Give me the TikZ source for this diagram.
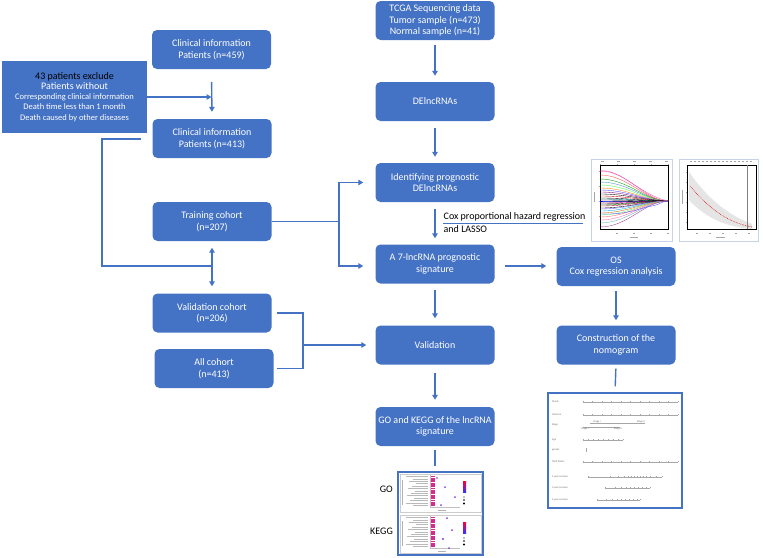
\documentclass[tikz,border=0pt]{standalone}
\usepackage{fontspec}
\setmainfont{Carlito}
\usetikzlibrary{arrows.meta,calc}
\definecolor{ob}{HTML}{4472C4}
\definecolor{frm}{HTML}{C9D3E6}
\definecolor{mag}{HTML}{D62A8E}
\definecolor{pur}{HTML}{7F3FE0}
\begin{document}
\begin{tikzpicture}[x=1pt,y=-1pt,
  box/.style={rectangle,rounded corners=5pt,fill=ob,text=white,align=center,
    font=\fontsize{10}{11.5}\selectfont,minimum width=119pt,minimum height=39pt,inner sep=1pt},
  conn/.style={draw=ob,line width=1.4pt},
  arr/.style={conn,-{Triangle[length=5pt,width=5.5pt]}},
  arrtwo/.style={conn,{Triangle[length=5pt,width=5.5pt]}-{Triangle[length=5pt,width=5.5pt]}},
  lbl/.style={font=\fontsize{10}{11.5}\selectfont,inner sep=0pt,text=black},
  imgframe/.style={draw=ob,line width=1.2pt,fill=white,inner sep=0pt},
  plotframe/.style={draw=frm,line width=0.8pt,fill=white,inner sep=0pt},
  ax/.style={draw=gray!70,line width=0.3pt},
  tiny/.style={font=\fontsize{2.6}{3}\selectfont,text=gray!80!black,inner sep=0pt}]
\useasboundingbox (0,0) rectangle (763,557);

% ---------- left column ----------
\node[box] (c459) at (211.5,49.5) {Clinical information\\Patients (n=459)};
\node[rectangle,fill=ob,text=white,align=center,minimum width=145pt,minimum height=72pt,inner sep=1pt,
  font=\fontsize{8.5}{10.2}\selectfont] (excl) at (74.5,97)
  {{\fontsize{10}{10.2}\selectfont\textcolor{black}{43 patients exclude}}\\
   {\fontsize{10}{10.2}\selectfont Patients without}\\
   Corresponding clinical information\\
   Death time less than 1 month\\
   Death caused by other diseases};
\node[box] (c413) at (212,138.5) {Clinical information\\Patients (n=413)};
\node[box] (train) at (212,221.5) {Training cohort\\(n=207)};
\node[box] (valc) at (212,313) {Validation cohort\\(n=206)};
\node[box] (allc) at (214,368.5) {All cohort\\(n=413)};

% ---------- middle column ----------
\node[box] (tcga) at (435,20.5) {TCGA Sequencing data\\Tumor sample (n=473)\\Normal sample (n=41)};
\node[box] (deln) at (435,101.5) {DElncRNAs};
\node[box] (ident) at (435,182.5) {Identifying prognostic\\DElncRNAs};
\node[box] (a7) at (435,264) {A 7-lncRNA prognostic\\signature};
\node[box] (valid) at (435,345) {Validation};
\node[box] (gok) at (435,426.5) {GO and KEGG of the lncRNA\\signature};

% ---------- right column ----------
\node[box] (os) at (616,266.5) {OS\\Cox regression analysis};
\node[box] (nomo) at (616,345) {Construction of the\\nomogram};

% ---------- connectors, left ----------
\draw[arr,shorten <=13pt,shorten >=7pt] (c459.south) -- (c413.north);
\draw[arr,shorten >=0.5pt] (excl.east) -- (excl.east -| c413.north);
\coordinate (j0) at (141,139);
\coordinate (j1) at (102,139);
\coordinate (j2) at (211,266);
\draw[conn] (j0) -- (j1) |- (j2);
\draw[arrtwo,shorten <=6.5pt,shorten >=7pt] (train.south) -- (valc.north);

\coordinate (tb) at (339,221.5);
\draw[conn] (train.east) -- (tb);
\draw[arr,shorten >=12pt] (tb) |- (ident.west);
\draw[arr,shorten >=12pt] (tb) |- ($(a7.west)+(0,2)$);

\coordinate (vb) at (303,345);
\draw[conn,shorten <=5pt] (valc.east) -| (vb);
\draw[conn,shorten <=3pt] (allc.east) -| (vb);
\draw[arr,shorten >=9pt] (vb) -- (valid.west);

% ---------- connectors, middle ----------
\draw[arr,shorten <=5pt,shorten >=6pt] (tcga.south) -- (deln.north);
\draw[arr,shorten <=7pt,shorten >=6pt] (deln.south) -- (ident.north);
\draw[arr,shorten <=7pt,shorten >=6pt] (ident.south) -- (a7.north);
\draw[arr,shorten <=6pt,shorten >=7pt] (a7.south) -- (valid.north);
\draw[arr,shorten <=8pt,shorten >=7pt] (valid.south) -- (gok.north);
\draw[arr,shorten <=10pt,shorten >=10pt] ($(a7.east)+(0,2)$) -- ($(a7.east -| os.west)+(0,2)$);
\draw[arr,shorten <=5pt,shorten >=5pt] (os.south) -- (nomo.north);

% Cox label
\node[lbl,anchor=west] (cox1) at (443.5,216.5) {Cox proportional hazard regression};
\node[lbl,anchor=west] (cox2) at (443.5,229.5) {and LASSO};
\coordinate (coxa) at (443,223);
\coordinate (coxb) at (583,223);
\draw[draw=ob,line width=0.9pt] (coxa) -- (coxb);

% ---------- LASSO plots ----------
\node[plotframe,minimum width=81pt,minimum height=82pt] (lasso1) at (631.5,200) {};
\draw[line width=0.3pt] (600,165) rectangle (668,229);
\foreach \x in {600,617,634,651,668} \draw[ax] (\x,165) -- (\x,163.5);
\foreach \x in {602,618,634,650,666} \draw[ax,line width=0.6pt] (\x-1.5,161.5) -- (\x+1.5,161.5);
\foreach \yy in {171,186,201,216} \draw[ax] (600,\yy) -- (598.5,\yy);
\foreach \x in {617,634,651,668} \draw[ax,line width=0.6pt] (\x-1,233) -- (\x+1,233);
\draw[ax,line width=0.6pt] (630,237) -- (638,237);
\draw[ax,line width=0.6pt] (594,192) -- (594,202);
\foreach \yy/\c in {171/magenta!70,175/red!70,179/green!60!black,182/cyan!70!black,185/green!70,
  188/orange,190/blue!70,192/violet,194/black,196/red!80!black,198/black,199/teal,200/black,
  201/blue,202/black,203/magenta,204/black,205/green!50!black,206/purple,208/black,209/blue!60,
  211/cyan,213/orange!80!black,215/green!60,217/red!60,220/magenta!60,223/teal!60,227/violet!80}
  \draw[\c,line width=0.35pt] (600,\yy) .. controls (628,\yy) and (645,201) .. (668,201);
\draw[blue!70,line width=0.35pt] (600,214) .. controls (630,215) and (642,207) .. (652,206) .. controls (659,205) and (662,201) .. (668,201);
\draw[magenta!70,line width=0.35pt] (600,171) .. controls (620,168) and (640,195) .. (668,201);

\node[plotframe,minimum width=79pt,minimum height=82pt] (lasso2) at (718.5,200) {};
\draw[line width=0.3pt] (687,165) rectangle (756,229);
\foreach \x in {691,695,...,751} \draw[ax,line width=0.6pt] (\x-1,161.5) -- (\x+1,161.5);
\foreach \yy in {172,182,192,202,212,222} \draw[ax] (687,\yy) -- (685.5,\yy);
\foreach \x in {697,710,723,736,749} \draw[ax,line width=0.6pt] (\x-1,233) -- (\x+1,233);
\draw[ax,line width=0.6pt] (716,237) -- (725,237);
\draw[ax,line width=0.6pt] (682,190) -- (682,204);
\fill[gray!20] (689,172) .. controls (705,195) and (725,214) .. (752,224) -- (752,229) .. controls (725,227) and (705,217) .. (689,200) -- cycle;
\draw[red!85!black,line width=0.6pt,densely dotted] (690,186) .. controls (707,206) and (725,222) .. (752,227);
\draw[gray,line width=0.4pt] (747,165) -- (747,229);

% ---------- GO / KEGG figure ----------
\node[lbl,anchor=east] (golbl) at (393,489) {GO};
\node[lbl,anchor=east] (kegglbl) at (393,531) {KEGG};
\node[imgframe,minimum width=85pt,minimum height=83pt] (goimg) at (440.5,513.5) {};
\draw[gray!40,line width=0.3pt] (400,474) rectangle (481,512);
\draw[gray!40,line width=0.3pt] (400,515) rectangle (481,553);
\foreach \p in {0,41} {
  \draw[gray!60,line width=0.5pt] (402,480+\p) -- (402,505+\p);
  \foreach \i in {0,...,12} {
    \pgfmathsetmacro{\yy}{476.5+\p+\i*2.4}
    \pgfmathsetmacro{\xs}{406+mod(\i*7,11)}
    \draw[gray!55,line width=0.6pt] (\xs,\yy) -- (428,\yy);
    \fill[mag] (431,\yy-0.9) rectangle (434.5,\yy+0.9);
  }
  \draw[gray!50,line width=0.3pt] (430,474.5+\p) -- (430,507.5+\p) -- (460,507.5+\p);
  \draw[gray!60,line width=0.6pt] (438,510+\p) -- (446,510+\p);
  \shade[top color=red!80!magenta,bottom color=blue!80] (463,481+\p) rectangle (466,492+\p);
  \fill[black] (464,497+\p) circle (0.7) (464,500+\p) circle (0.9) (464,503.5+\p) circle (1.1);
}
\fill[pur] (445,487) circle (1) (455,497) circle (1) (437,478) circle (0.9) (441,505) circle (1);
\fill[pur] (447,518) circle (1) (452,530) circle (1) (443,539) circle (1.1) (449,548) circle (1);

% ---------- nomogram figure ----------
\node[imgframe,minimum width=134pt,minimum height=115pt] (nomimg) at (615,450.5) {};
\foreach \yy/\t in {402/Points,415/lncScore,425/Stage,440/Age,450/gender,462/Total Points,477/1-year survival,488/3-year survival,500/5-year survival}
  \node[tiny,anchor=west] at (552,\yy) {\t};
\foreach \yy in {402,415,462} {
  \draw[ax] (583,\yy) -- (678,\yy);
  \foreach \k in {0,...,10} \draw[ax] (583+\k*9.5,\yy) -- (583+\k*9.5,\yy-1.5);
}
\draw[ax] (590,423) -- (645,423);
\draw[ax] (583,427) -- (620,427);
\node[tiny] at (597,421.5) {Stage I}; \node[tiny] at (641,421.5) {Stage II};
\node[tiny] at (585,429) {Stage I}; \node[tiny] at (618,429) {Stage II};
\draw[ax] (583,440) -- (623,440);
\foreach \k in {0,...,8} \draw[ax] (583+\k*5,440) -- (583+\k*5,438.5);
\draw[ax] (586,448) -- (586,452);
\draw[ax] (588,477) -- (662,477);
\foreach \x in {588,610,618,624,628,631,634,637,640,643,646,650,656,662} \draw[ax] (\x,477) -- (\x,475.5);
\draw[ax] (605,488) -- (650,488);
\foreach \x in {605,615,621,626,630,634,638,642,646,650} \draw[ax] (\x,488) -- (\x,486.5);
\draw[ax] (597,500) -- (640,500);
\foreach \x in {597,606,612,617,621,625,629,633,637,640} \draw[ax] (\x,500) -- (\x,498.5);

\draw[conn,shorten <=4pt,shorten >=6pt] (nomo.south) -- (nomimg.north);
\draw[conn,shorten <=4pt,shorten >=5pt] (gok.south) -- (gok.south |- goimg.north);
\end{tikzpicture}
\end{document}
